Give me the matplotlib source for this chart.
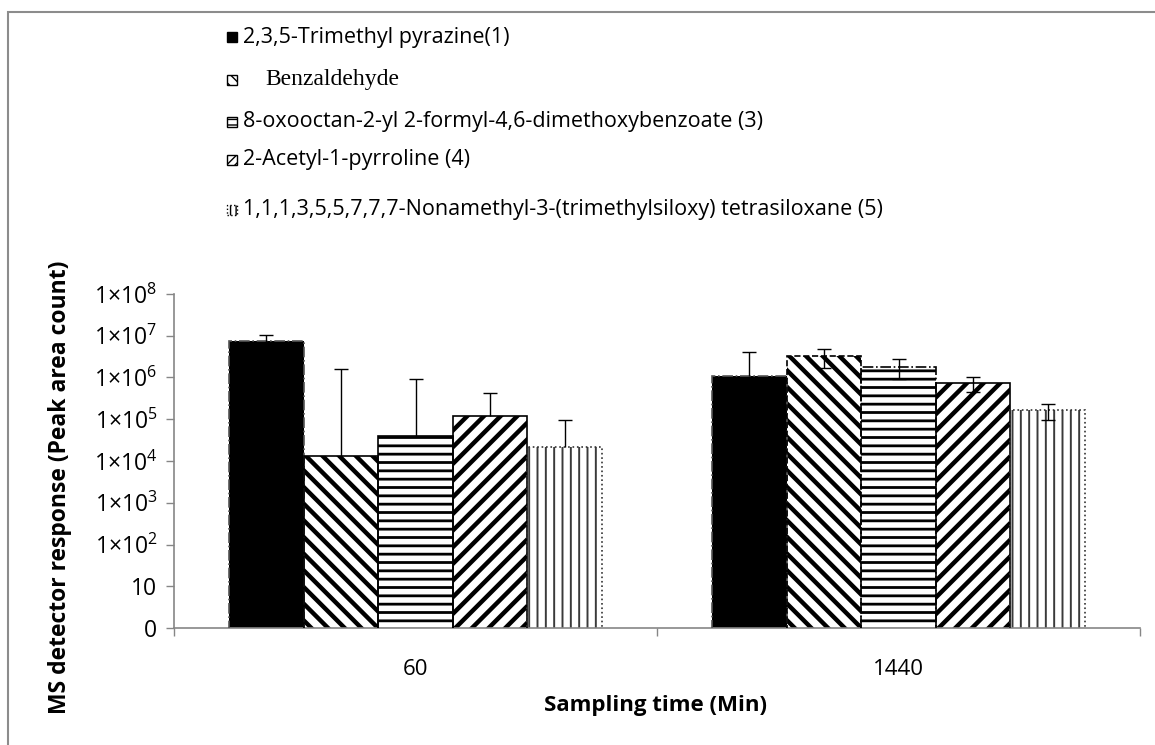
import matplotlib
matplotlib.use("Agg")
import matplotlib.pyplot as plt
from matplotlib.patches import Rectangle
import numpy as np

# peak area counts (mean) and standard deviation per compound
compounds = [
    "2,3,5-Trimethyl pyrazine(1)",
    "Benzaldehyde",
    "8-oxooctan-2-yl 2-formyl-4,6-dimethoxybenzoate (3)",
    "2-Acetyl-1-pyrroline (4)",
    "1,1,1,3,5,5,7,7,7-Nonamethyl-3-(trimethylsiloxy) tetrasiloxane (5)",
]
times = ["60", "1440"]
area_60 = [7.6e6, 1.3e4, 4.0e4, 1.2e5, 2.2e4]
area_1440 = [1.1e6, 3.2e6, 1.8e6, 7.5e5, 1.67e5]
sd_60 = [2.8e6, 1.59e6, 9.0e5, 3.1e5, 7.4e4]
sd_1440 = [3.0e6, 1.5e6, 0.9e6, 3.0e5, 7.0e4]

plt.rcParams["font.family"] = ["Open Sans", "DejaVu Sans"]
plt.rcParams["mathtext.fontset"] = "custom"
plt.rcParams["mathtext.rm"] = "Open Sans"
plt.rcParams["mathtext.it"] = "Open Sans"

W, H = 1155, 745
fig = plt.figure(figsize=(W / 100, H / 100), dpi=100)

def fx(px):
    return px / W

def fy(py):
    return 1 - py / H

# plot area in pixels: left 174, right 1140, top 294 (1e8), bottom 628 (1)
ax = fig.add_axes([fx(174), fy(628), fx(1140) - fx(174), fy(294) - fy(628)])

hatches = [None, "\\\\", "--", "//", "||"]
hatch_lw = [1.0, 3.2, 2.0, 3.2, 1.4]
faces = ["black", "white", "white", "white", "white"]
hatch_cols = ["black", "black", "black", "black", "#3a3a3a"]
edge_styles = [
    [("#555555", "-."), ("black", "-"), ("black", "-"), ("black", "-"), ("#333333", ":")],
    [("#555555", "-."), ("black", "--"), ("black", "-."), ("black", "-"), ("#333333", ":")],
]

n = len(compounds)
width = 0.1544
centers = np.arange(len(times)) + 0.5
groups = [area_60, area_1440]
sds = [sd_60, sd_1440]

for g, (vals, errs) in enumerate(zip(groups, sds)):
    for i in range(n):
        x = centers[g] + (i - (n - 1) / 2) * width
        ec, ls = edge_styles[g][i]
        with plt.rc_context({"hatch.linewidth": hatch_lw[i]}):
            bars = ax.bar(x, vals[i], width, facecolor=faces[i],
                          edgecolor=hatch_cols[i], hatch=hatches[i], linewidth=0,
                          zorder=2)
        for b in bars:
            if hasattr(b, "set_hatch_linewidth"):
                b.set_hatch_linewidth(hatch_lw[i])
        # outline drawn separately so the hatch keeps its own colour
        ax.bar(x, vals[i], width, facecolor="none", edgecolor=ec,
               linestyle=ls, linewidth=1.2, zorder=3)
        # a symmetric sd that reaches below zero can't be shown on a log axis
        lower = errs[i] if errs[i] < vals[i] else 0
        eb = ax.errorbar(x, vals[i], yerr=[[lower], [errs[i]]], fmt="none",
                         ecolor="black", elinewidth=1, capsize=5, capthick=1,
                         zorder=4)
        if lower == 0:
            eb[1][0].set_visible(False)

ax.set_yscale("log")
ax.set_ylim(1, 1e8)
ax.set_xlim(0, 2)
ytick_labels = ["0", "10"] + [r"1×10$^{%d}$" % k for k in range(2, 9)]
ax.set_yticks([10.0 ** k for k in range(9)])
ax.set_yticklabels(ytick_labels, fontsize=16.5)
ax.yaxis.set_minor_locator(matplotlib.ticker.NullLocator())

ax.set_xticks([0, 1, 2])
ax.set_xticklabels([])
ax.set_xticks(centers, minor=True)
ax.set_xticklabels(times, minor=True, fontsize=16)
ax.tick_params(axis="x", which="minor", length=0, pad=22)
ax.tick_params(axis="both", which="major", length=6, color="#868686", width=1)
ax.tick_params(axis="y", pad=6)

for s in ["top", "right"]:
    ax.spines[s].set_visible(False)
for s in ["left", "bottom"]:
    ax.spines[s].set_color("#868686")
    ax.spines[s].set_linewidth(1.2)

fig.text(fx(656), fy(705), "Sampling time (Min)", ha="center", va="center",
         fontsize=16, fontweight="bold")
fig.text(fx(60), fy(487), "MS detector response (Peak area count)", ha="center",
         va="center", rotation=90, fontsize=16.5, fontweight="bold")

# legend rows
row_y = [37, 80, 122, 160, 210]
text_x = [243, 265, 243, 243, 243]
mark_hatch = [None, "\\\\\\", "---", "////", "|||"]
for i in range(n):
    with plt.rc_context({"hatch.linewidth": 1.0}):
        r = Rectangle((fx(227), fy(row_y[i] + 5)), fx(10), fy(0) - fy(10),
                      transform=fig.transFigure, facecolor=faces[i],
                      edgecolor="black", hatch=mark_hatch[i], linewidth=1,
                      linestyle=":" if i == 4 else "-")
    fig.add_artist(r)
    if i == 1:
        fig.text(fx(text_x[i]), fy(row_y[i]), compounds[i], ha="left", va="center",
                 fontsize=17, family=["Liberation Serif", "DejaVu Serif"])
    else:
        fig.text(fx(text_x[i]), fy(row_y[i]), compounds[i], ha="left", va="center",
                 fontsize=15.5)

# chart frame
fig.add_artist(Rectangle((fx(8), fy(1000)), 2, fy(12) - fy(1000),
                         transform=fig.transFigure, facecolor="none",
                         edgecolor="#8c8c8c", linewidth=1.5))

fig.savefig("out.png", dpi=100)
